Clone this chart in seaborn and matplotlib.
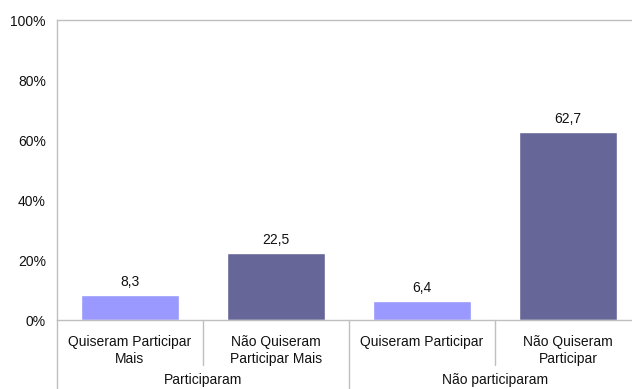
import matplotlib
matplotlib.use("Agg")
import matplotlib.pyplot as plt
import matplotlib.transforms as mtransforms
import seaborn as sns
import pandas as pd

# Chart data
categories = ["Quiseram Participar\nMais", "Não Quiseram\nParticipar Mais",
              "Quiseram Participar", "Não Quiseram\nParticipar"]
values = [8.3, 22.5, 6.4, 62.7]
groups = ["Participaram", "Não participaram"]
bar_colors = ["#9999FF", "#666699", "#9999FF", "#666699"]
y_ticks = [0, 20, 40, 60, 80, 100]

df = pd.DataFrame({"categoria": categories, "valor": values})

sns.set_style("white")
plt.rcParams["font.family"] = ["Liberation Sans", "DejaVu Sans"]

fig = plt.figure(figsize=(6.32, 3.89), dpi=100)
ax = fig.add_axes([57 / 632, 69 / 389, 584 / 632, 300 / 389])

sns.barplot(data=df, x="categoria", y="valor", hue="categoria",
            palette=bar_colors, width=0.67, legend=False, ax=ax,
            saturation=1)

ax.set_xlim(-0.5, 3.5)
ax.set_ylim(0, 100)
ax.set_yticks(y_ticks)
ax.set_yticklabels([f"{t}%" for t in y_ticks])
ax.set_xlabel("")
ax.set_ylabel("")

grey = "#BFBFBF"
for side in ["left", "bottom", "top"]:
    ax.spines[side].set_color(grey)
    ax.spines[side].set_linewidth(1)
ax.spines["right"].set_visible(False)

ax.tick_params(axis="y", length=4, color=grey, labelsize=10, pad=4,
               labelcolor="#111111")
ax.tick_params(axis="x", length=0, labelsize=10, pad=11,
               labelcolor="#111111")
for lbl in ax.get_xticklabels():
    lbl.set_linespacing(1.25)

# value labels
for i, v in enumerate(values):
    ax.text(i, v + 2, f"{v:.1f}".replace(".", ","), ha="center", va="bottom",
            fontsize=10, color="#111111")

# category separators and group labels
trans = mtransforms.blended_transform_factory(ax.transData, ax.transAxes)
for x in [0.5, 2.5]:
    ax.plot([x, x], [0, -0.15], color=grey, lw=1, transform=trans, clip_on=False)
for x in [-0.5, 1.5, 3.5]:
    ax.plot([x, x], [0, -0.3], color=grey, lw=1, transform=trans, clip_on=False)
for i, g in enumerate(groups):
    ax.text(2 * i + 0.5, -0.224, g, ha="center", va="bottom", fontsize=10,
            color="#111111", transform=trans)

fig.savefig("out.png", dpi=100)
